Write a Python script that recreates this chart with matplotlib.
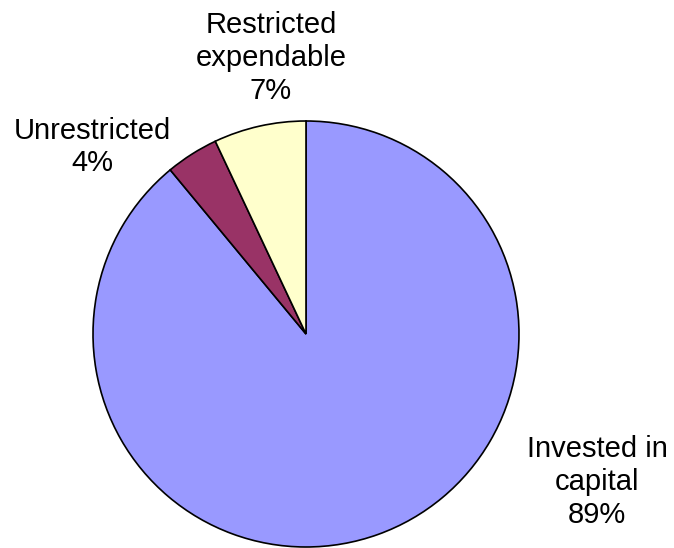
import matplotlib.pyplot as plt

# net assets breakdown
labels = ["Invested in\ncapital", "Unrestricted", "Restricted\nexpendable"]
shares = [89, 4, 7]
colors = ["#9999FF", "#993366", "#FFFFCC"]

W, H = 674, 548
fig = plt.figure(figsize=(W / 100, H / 100), dpi=100)
ax = fig.add_axes([0, 0, 1, 1])

ax.pie(shares, colors=colors, startangle=90, counterclock=False,
       center=(306, H - 334), radius=213,
       wedgeprops=dict(edgecolor="black", linewidth=1.2))

# label positions in pixels from the top-left corner
label_pos = [(597, 482), (92, 147), (271, 58)]
for lab, val, (x, y) in zip(labels, shares, label_pos):
    ax.text(x, H - y, f"{lab}\n{val}%", ha="center", va="center",
            fontsize=21, family="Liberation Sans", linespacing=1.22)

ax.set_xlim(0, W)
ax.set_ylim(0, H)
ax.set_aspect("equal")
ax.axis("off")

fig.savefig("out.png", dpi=100)
